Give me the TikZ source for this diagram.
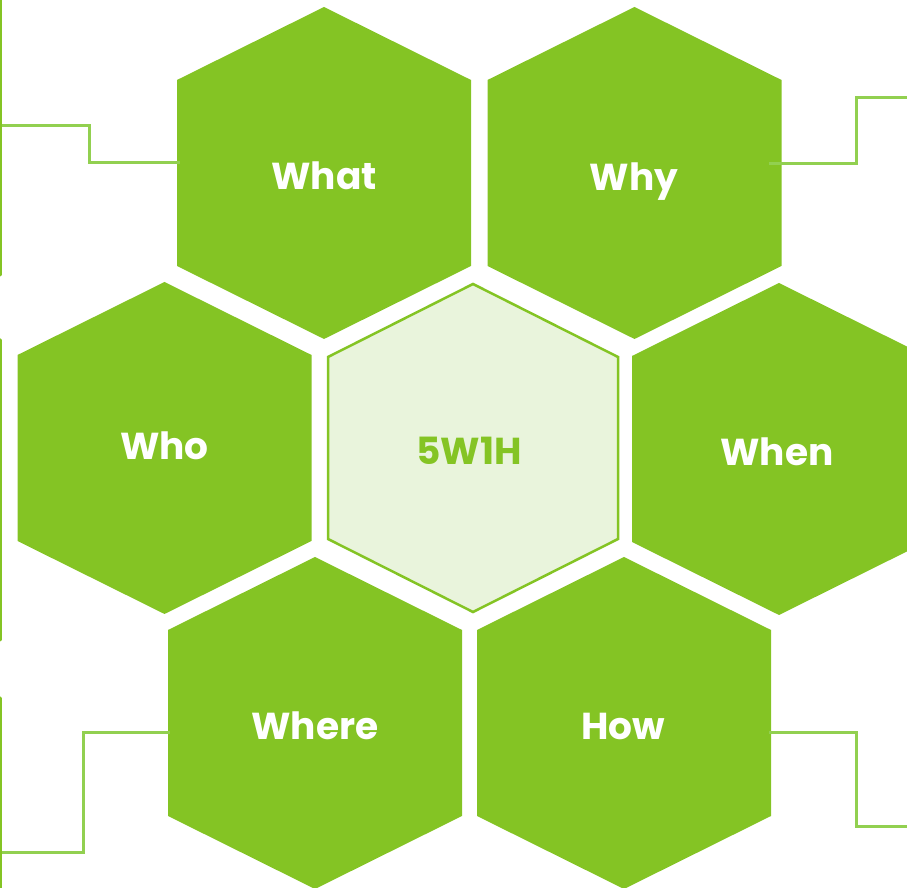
\documentclass[tikz,border=0pt]{standalone}
\usepackage{fontspec}
\setmainfont{Poppins}
\usetikzlibrary{calc}
\definecolor{leaf}{HTML}{84C424}
\definecolor{wire}{HTML}{92D050}
\definecolor{pale}{HTML}{E9F4DC}
\begin{document}
\begin{tikzpicture}[x=1pt,y=1pt,
  hexlabel/.style={text=white,font=\bfseries\fontsize{37.5}{37.5}\selectfont,inner sep=0pt,anchor=base},
  corelabel/.style={text=leaf,font=\bfseries\fontsize{37.5}{37.5}\selectfont,inner sep=0pt,anchor=base},
  wireline/.style={draw=wire,line width=3pt},
  rimline/.style={draw=leaf,line width=3pt,line cap=round},
  hexbody/.pic={\fill[leaf] (0,166)--(147,93)--(147,-93)--(0,-166)--(-147,-93)--(-147,93)--cycle;},
  hexcore/.pic={\filldraw[fill=pale,draw=leaf,line width=2.5pt] (0,164)--(145,91)--(145,-91)--(0,-164)--(-145,-91)--(-145,91)--cycle;}]
\useasboundingbox (0,0) rectangle (907,888);

% honeycomb cells
\pic at (324,715) {hexbody};
\pic at (634.5,715) {hexbody};
\pic at (164.5,440) {hexbody};
\pic at (473,440) {hexcore};
\pic at (779,439) {hexbody};
\pic at (315,165) {hexbody};
\pic at (624,165) {hexbody};

% labels, placed on their baselines
\node[hexlabel] (what) at (324,698) {What};
\node[hexlabel] (why) at (634,697) {Why};
\node[hexlabel] (who) at (164.5,428) {Who};
\node[corelabel] (core) at (469,423) {5W1H};
\node[hexlabel] (when) at (777,422) {When};
\node[hexlabel] (where) at (315,148) {Where};
\node[hexlabel] (how) at (623,148) {How};

% connector ends
\coordinate (whatL) at ($(what.base)+(-144,27)$);
\coordinate (whyR) at ($(why.base)+(135,27)$);
\coordinate (whereL) at ($(where.base)+(-145,7)$);
\coordinate (howR) at ($(how.base)+(146,7)$);
\coordinate (whatOut) at (0,762);
\coordinate (whyOut) at (907,790);
\coordinate (whereOut) at (0,35);
\coordinate (howOut) at (907,61);

% connectors
\draw[wireline] (whatL) -| (89,762) -- (whatOut);
\draw[wireline] (whyR) -| (856,790) -- (whyOut);
\draw[wireline] (whereL) -| (83,35) -- (whereOut);
\draw[wireline] (howR) -| (856,61) -- (howOut);

% rim segments along the left side
\coordinate (r1a) at (0.5,890);
\coordinate (r1b) at (0.5,613);
\coordinate (r2a) at (0.5,548);
\coordinate (r2b) at (0.5,248);
\coordinate (r3a) at (0.5,190);
\coordinate (r3b) at (0.5,-2);
\draw[rimline] (r1a) -- (r1b);
\draw[rimline] (r2a) -- (r2b);
\draw[rimline] (r3a) -- (r3b);
\end{tikzpicture}
\end{document}
